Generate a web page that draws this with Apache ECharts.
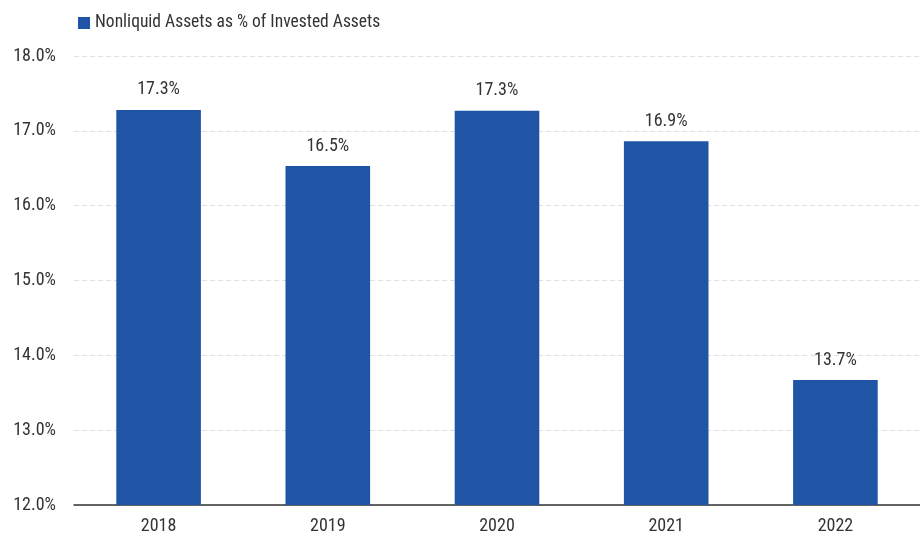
<!DOCTYPE html>
<html>
<head>
    <meta charset="utf-8">
    <script src="https://cdn.jsdelivr.net/npm/echarts@6/dist/echarts.min.js"></script>
    <style>
        html, body { margin: 0; padding: 0; background: #fff; }
        #main { width: 920px; height: 540px; }
    </style>
</head>
<body>
<div id="main"></div>
<script>
    var years = ['2018', '2019', '2020', '2021', '2022'];
    var nonliquidPct = [17.28, 16.53, 17.27, 16.86, 13.67];
    var seriesName = 'Nonliquid Assets as % of Invested Assets';

    var font = '"Roboto Condensed", "Roboto", sans-serif';
    var chart = echarts.init(document.getElementById('main'));

    chart.setOption({
        animation: false,
        textStyle: { fontFamily: font },
        legend: {
            left: 73,
            top: 9,
            itemWidth: 12,
            itemHeight: 12,
            itemGap: 4,
            icon: 'rect',
            textStyle: { fontFamily: font, fontSize: 17.5, color: '#333' },
            data: [seriesName]
        },
        grid: {
            left: 74,
            right: 0,
            top: 56,
            bottom: 35,
            containLabel: false
        },
        xAxis: {
            type: 'category',
            data: years,
            axisLine: { lineStyle: { color: '#333', width: 1.5 } },
            axisTick: { show: false },
            axisLabel: { fontFamily: font, fontSize: 18, color: '#333', margin: 12 }
        },
        yAxis: {
            type: 'value',
            min: 12,
            max: 18,
            interval: 1,
            axisLine: { show: false },
            axisTick: { show: false },
            axisLabel: {
                fontFamily: font, fontSize: 18, color: '#333', margin: 18,
                formatter: function (v) { return v.toFixed(1) + '%'; }
            },
            splitLine: { lineStyle: { color: '#e0e0e0', type: [5, 3] } }
        },
        series: [{
            name: seriesName,
            type: 'bar',
            data: nonliquidPct,
            barWidth: '50%',
            itemStyle: { color: '#1f55a4' },
            label: {
                show: true,
                position: 'top',
                distance: 11,
                fontFamily: font,
                fontSize: 18,
                color: '#333',
                formatter: function (p) { return p.value.toFixed(1) + '%'; }
            }
        }]
    });
</script>
</body>
</html>
